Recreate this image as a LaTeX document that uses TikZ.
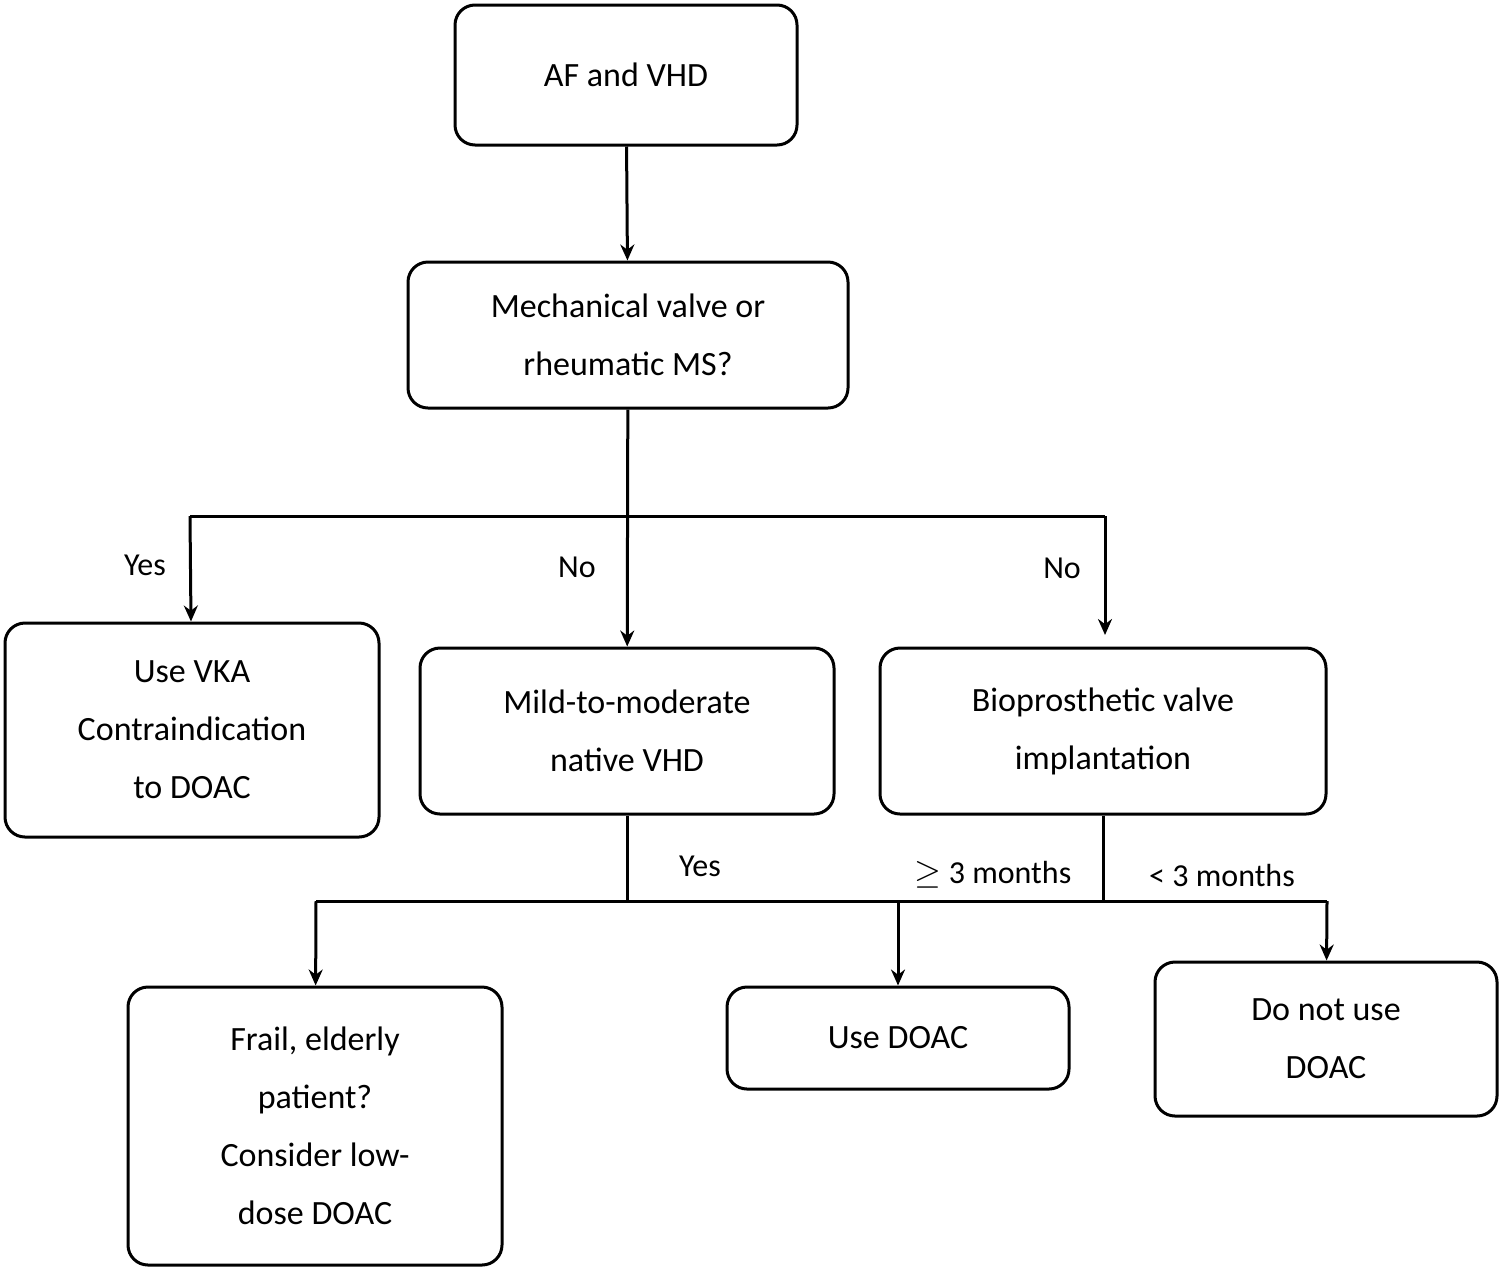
\documentclass[tikz,border=0pt]{standalone}
\usepackage{fontspec}
\setmainfont{Carlito}
\usetikzlibrary{positioning, arrows.meta}

\tikzset{
	box/.style={draw, line width=1.5pt, rounded corners=10pt, align=center, font=\fontsize{17}{29}\selectfont},
	lbl/.style={font=\fontsize{16}{20}\selectfont},
	link/.style={line width=1.5pt},
	arr/.style={link, -{Stealth[length=8pt,width=7pt]}}
}

\begin{document}
\begin{tikzpicture}[x=0.5pt,y=-0.5pt]
	\useasboundingbox (0,0) rectangle (1502,1270);

	\node (afvhd) at (626,75) [box,minimum width=171pt,minimum height=70pt] {AF and VHD};
	\node (mech) at (628,335) [box,minimum width=220pt,minimum height=73pt] {Mechanical valve or\\rheumatic MS?};

	\node (vka) at (192,730) [box,minimum width=187pt,minimum height=107pt] {Use VKA\\Contraindication\\to DOAC};
	\node (mild) at (627,731) [box,minimum width=207pt,minimum height=83pt] {Mild-to-moderate\\native VHD};
	\node (bio) at (1103,731) [box,minimum width=223pt,minimum height=83pt] {Bioprosthetic valve\\implantation};

	\node (frail) at (315,1126) [box,minimum width=187pt,minimum height=139pt] {Frail, elderly\\patient?\\Consider low-\\dose DOAC};
	\node (usedoac) at (898,1038) [box,minimum width=171pt,minimum height=51pt] {Use DOAC};
	\node (donot) at (1326,1039) [box,minimum width=171pt,minimum height=77pt] {Do not use\\DOAC};

	% first split
	\coordinate (split1) at (628,516);
	\coordinate (left1) at (190,516);
	\coordinate (right1) at (1105,516);
	\coordinate (bioin) at (1105,635);
	\draw[arr] (afvhd) -- (mech);
	\draw[arr] (mech) -- (mild);
	\draw[link] (left1) -- (right1);
	\draw[arr] (left1) -- (vka);
	\draw[arr] (right1) -- (bioin);

	% second split
	\coordinate (split2) at (627,901);
	\coordinate (left2) at (316,901);
	\coordinate (mid2) at (898,901);
	\coordinate (bio2) at (1103,901);
	\coordinate (right2) at (1327,901);
	\draw[link] (mild) -- (split2);
	\draw[link] (bio) -- (bio2);
	\draw[link] (left2) -- (right2);
	\draw[arr] (left2) -- (frail);
	\draw[arr] (mid2) -- (usedoac);
	\draw[arr] (right2) -- (donot);

	%labels
	\node[lbl] (yes1) at (145,565) {Yes};
	\node[lbl] (no1) at (577,567) {No};
	\node[lbl] (no2) at (1062,568) {No};
	\node[lbl] (yes2) at (700,866) {Yes};
	\node[lbl] (ge3) at (993,875) {$\geq$ 3 months};
	\node[lbl] (lt3) at (1222,875) {< 3 months};
\end{tikzpicture}
\end{document}
